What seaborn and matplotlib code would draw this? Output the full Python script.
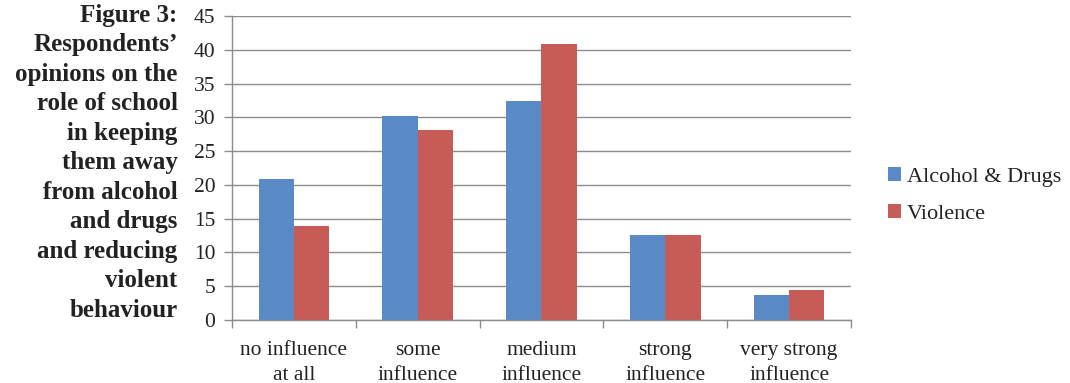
import matplotlib
matplotlib.use("Agg")
import matplotlib.pyplot as plt
import seaborn as sns
import pandas as pd

categories = ["no influence\nat all", "some\ninfluence", "medium\ninfluence",
              "strong\ninfluence", "very strong\ninfluence"]
alcohol_drugs = [20.9, 30.2, 32.4, 12.6, 3.7]
violence = [13.9, 28.2, 40.8, 12.6, 4.4]
series_names = ["Alcohol & Drugs", "Violence"]
y_ticks = [0, 5, 10, 15, 20, 25, 30, 35, 40, 45]
caption = ("Figure 3:\nRespondents’\nopinions on the\nrole of school\nin keeping\n"
           "them away\nfrom alcohol\nand drugs\nand reducing\nviolent\nbehaviour")

df = pd.DataFrame({
    "category": categories * 2,
    "value": alcohol_drugs + violence,
    "series": [series_names[0]] * len(categories) + [series_names[1]] * len(categories),
})

sns.set_theme(style="white")
plt.rcParams["font.family"] = ["Liberation Serif", "DejaVu Serif"]

fig = plt.figure(figsize=(10.7, 3.83), dpi=100)
ax = fig.add_axes([0.2168, 0.1645, 0.5785, 0.7935])

sns.barplot(data=df, x="category", y="value", hue="series",
            palette=["#5A8AC6", "#C65B58"], width=0.57, ax=ax,
            saturation=1, legend=True, linewidth=0)

ax.set_ylim(0, 45)
ax.set_xlim(-0.5, len(categories) - 0.5)
ax.set_yticks(y_ticks)
ax.set_yticklabels([str(t) for t in y_ticks], fontsize=15.5, color="#222222")
ax.yaxis.grid(True, color="#8c8c8c", linewidth=1.0)
ax.set_axisbelow(True)
ax.set_xlabel("")
ax.set_ylabel("")

# category boundary ticks on the x axis
ax.set_xticks([i - 0.5 for i in range(len(categories) + 1)], minor=True)
ax.tick_params(axis="x", which="minor", length=6, color="#8c8c8c", width=1, bottom=True)
ax.tick_params(axis="x", which="major", length=0, pad=15)
ax.tick_params(axis="y", length=6, color="#8c8c8c", width=1, left=True, pad=6)
for lbl in ax.get_xticklabels():
    lbl.set_fontsize(15.5)
    lbl.set_color("#222222")
    lbl.set_linespacing(1.45)

for side in ["top", "right"]:
    ax.spines[side].set_visible(False)
for side in ["left", "bottom"]:
    ax.spines[side].set_color("#8c8c8c")
    ax.spines[side].set_linewidth(1)

handles, labels = ax.get_legend_handles_labels()
ax.legend(handles, labels, loc="center left", bbox_to_anchor=(1.045, 0.41),
          borderaxespad=0, frameon=False, fontsize=16, handlelength=0.6,
          handleheight=0.6, handletextpad=0.25, labelspacing=0.75,
          labelcolor="#222222")

fig.text(0.166, 0.99, caption, ha="right", va="top", fontsize=18,
         fontweight="bold", linespacing=1.36, color="#222222")

fig.savefig("out.png", dpi=100)
